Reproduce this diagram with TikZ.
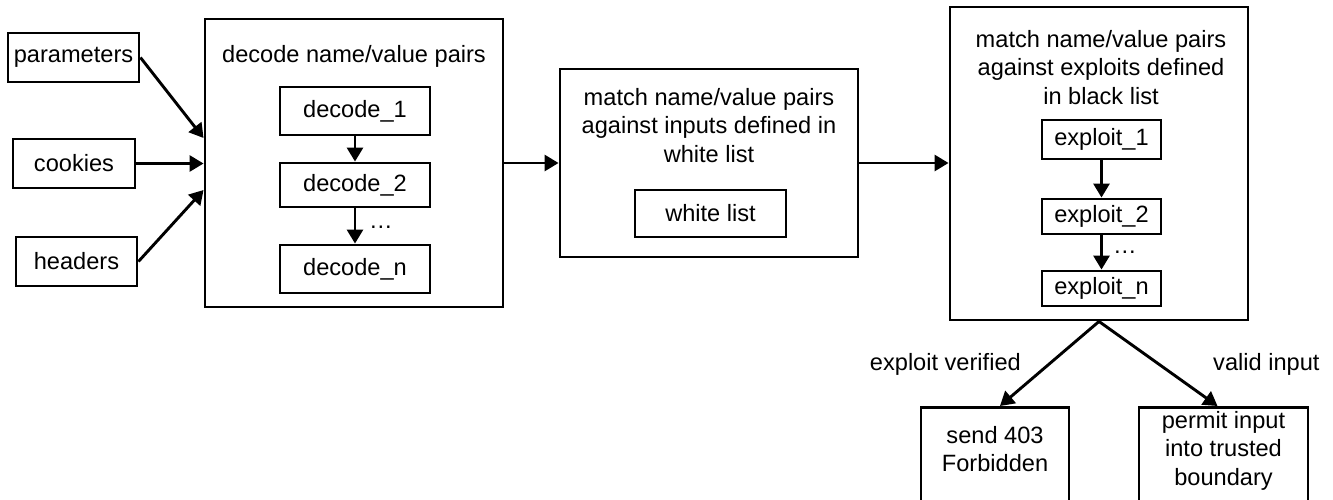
\documentclass[tikz,border=0pt]{standalone}
\usepackage{fontspec}
\setmainfont{Liberation Sans}
\usetikzlibrary{arrows.meta,calc}

\begin{document}
\begin{tikzpicture}[x=1pt,y=-1pt,
  font=\fontsize{23.6}{28.5}\selectfont,
  box/.style={draw,line width=2.9pt,inner sep=0pt},
  lbl/.style={inner sep=0pt,align=center},
  arr/.style={line width=2.9pt,-{Triangle[length=14pt,width=16pt]}}]
\useasboundingbox (0,0) rectangle (1333,499);
\clip (0,0) rectangle (1333,499);

% request inputs
\node[box,minimum width=131pt,minimum height=49pt] (par) at (73.5,57.5) {parameters};
\node[box,minimum width=122pt,minimum height=49pt] (coo) at (74,163.5) {cookies};
\node[box,minimum width=121pt,minimum height=49pt] (hea) at (76.5,261.5) {headers};

% decoding stage
\node[box,minimum width=298pt,minimum height=288pt] (dec) at (354,163) {};
\node[lbl] (dectitle) at (354,56) {decode name/value pairs};
\node[box,minimum width=150pt,minimum height=48pt] (d1) at (355,111) {decode\_1};
\node[box,minimum width=150pt,minimum height=44pt] (d2) at (355,185) {decode\_2};
\node[box,minimum width=150pt,minimum height=48pt] (dn) at (355,269) {decode\_n};
\node[lbl,anchor=base] (ddots) at (381,228) {…};

% white list stage
\node[box,minimum width=298pt,minimum height=188pt] (mat) at (709,163) {};
\node[lbl,anchor=north] (mattitle) at (709,88) {match name/value pairs\\against inputs defined in\\white list};
\node[box,minimum width=151pt,minimum height=47pt] (wl) at (710.5,213.5) {white list};

% black list stage
\node[box,minimum width=298pt,minimum height=313pt] (blk) at (1099,163.5) {};
\node[lbl,anchor=north] (blktitle) at (1101,30) {match name/value pairs\\against exploits defined\\in black list};
\node[box,minimum width=119pt,minimum height=39pt] (e1) at (1101.5,139.5) {exploit\_1};
\node[box,minimum width=119pt,minimum height=35pt] (e2) at (1101.5,216.5) {exploit\_2};
\node[box,minimum width=119pt,minimum height=35pt] (en) at (1101.5,288.5) {exploit\_n};
\node[lbl,anchor=base] (edots) at (1125,253) {…};

% outcomes
\node[box,minimum width=148pt,minimum height=120pt,anchor=north] (sendbox) at (995,406) {};
\node[lbl,anchor=north] (send) at (995,426) {send 403\\Forbidden};
\node[box,minimum width=169pt,minimum height=120pt,anchor=north] (permbox) at (1223.5,406) {};
\node[lbl,anchor=north] (perm) at (1223.5,411) {permit input\\into trusted\\boundary};

\node[lbl,anchor=base east] (ev) at (1021,370) {exploit verified};
\node[lbl,anchor=base west] (vi) at (1213,370) {valid input};

% connectors
\draw[arr] (par.east) -- ([yshift=25pt]dec.west);
\draw[arr] (coo.east) -- (coo.east -| dec.west);
\draw[arr] (hea.east) -- ([yshift=-27pt]dec.west);
\draw[arr] (d1) -- (d2);
\draw[arr] (d2) -- (dn);
\draw[arr] (dec.east) -- (mat.west);
\draw[arr] (mat.east) -- (mat.east -| blk.west);
\draw[arr] (e1) -- (e2);
\draw[arr] (e2) -- (en);
\draw[arr] (blk.south) -- ([xshift=5pt]sendbox.north);
\draw[arr] (blk.south) -- ([xshift=-6pt]permbox.north);
\end{tikzpicture}
\end{document}
